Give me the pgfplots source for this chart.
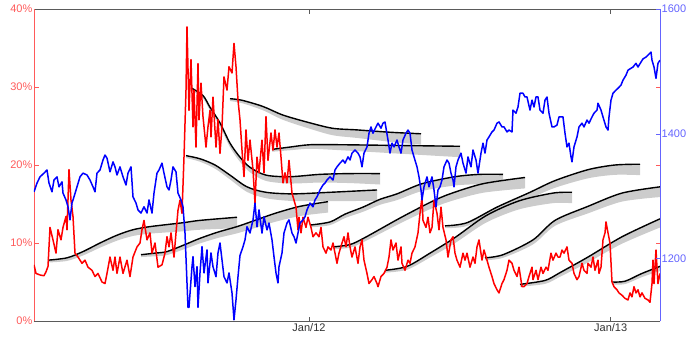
\documentclass[border=0pt]{standalone}
\usepackage{pgfplots}
\usepackage{pgfplotstable}
\pgfplotsset{compat=1.18}
\usepgfplotslibrary{fillbetween}
\usepackage{fontspec}
\setmainfont{Liberation Sans}
\definecolor{vixred}{RGB}{255,0,0}
\definecolor{spblue}{RGB}{0,0,255}
\definecolor{band}{RGB}{204,204,204}
\definecolor{lred}{RGB}{255,90,90}
\definecolor{lblue}{RGB}{100,100,255}
\definecolor{axgray}{RGB}{90,90,90}
\definecolor{labelgray}{RGB}{50,50,50}

% VIX-like series (days from Jan 1 2012, percent)
\pgfplotstableread{
d v
-330 7.2
-327.6 6.1
-322.8 5.9
-318 5.8
-315.6 6.3
-313.2 7.0
-310.8 12.0
-307.2 10.4
-303.6 8.7
-301.2 11.7
-297.6 10.4
-295.2 12.0
-291.6 13.4
-290.4 11.7
-288 19.4
-285.6 15.5
-283.2 13.4
-280.8 8.7
-277.2 8.2
-272.4 7.4
-268.8 7.8
-265.2 6.9
-260.4 6.5
-256.8 5.7
-253.2 6.1
-248.4 5.0
-244.8 4.8
-242.4 6.1
-238.8 8.2
-235.2 6.5
-232.8 8.2
-230.4 6.1
-226.8 8.2
-223.2 6.1
-218.4 7.8
-214.8 5.7
-211.2 8.2
-206.4 9.5
-202.8 10.0
-200.4 11.7
-198 12.9
-194.4 10.4
-190.8 11.3
-188.4 8.7
-184.8 10.0
-181.2 6.9
-176.4 7.2
-172.8 8.7
-170.4 10.8
-168 9.5
-165.6 11.3
-162 8.2
-159.6 11.3
-157.2 14.2
-154.8 15.5
-152.4 13.8
-150 21.0
-147.6 29.6
-146.4 37.7
-144 27.0
-141.6 33.5
-139.2 24.9
-138 29.6
-135.6 22.3
-133.2 33.0
-132 25.8
-129.6 30.5
-127.2 26.2
-123.6 22.3
-121.2 24.9
-118.8 27.0
-117.6 23.6
-115.2 28.7
-111.6 22.3
-109.2 25.8
-106.8 21.5
-104.4 24.9
-102 31.3
-98.4 29.6
-96 32.6
-92.4 31.8
-90 35.6
-87.6 32.6
-85.2 28.3
-82.8 25.8
-80.4 21.9
-78 18.5
-75.6 24.5
-73.2 20.6
-70.8 23.2
-67.2 19.4
-64.8 15.1
-62.4 21.0
-60 19.0
-56.4 23.2
-54 19.0
-51.6 26.2
-49.2 20.6
-45.6 24.1
-43.2 21.9
-40.8 24.5
-38.4 22.3
-36 24.1
-33.6 21.0
-31.2 17.7
-28.8 19.0
-26.4 17.7
-24 20.6
-20.4 16.4
-18 15.5
-15.6 14.6
-13.2 11.7
-12 13.3
-9.6 11.3
-7.2 13.3
-3.6 12.0
-1.2 13.3
2.4 12.0
4.8 10.8
8.4 11.3
12 10.8
14.4 12.0
16.8 9.5
20.4 8.7
22.8 9.5
26.4 9.1
28.8 10.0
31.2 8.7
33.6 7.4
36 8.7
39.6 10.0
42 10.8
44.4 9.5
46.8 11.3
49.2 9.5
51.6 8.2
55.2 9.5
58.8 7.4
61.2 9.5
63.6 10.4
66 7.8
69.6 6.1
72 4.8
75.6 5.3
78 5.7
81.6 4.8
82.8 4.4
86.4 5.7
90 6.1
93.6 6.9
96 8.2
98.4 10.4
100.8 9.1
104.4 10.0
106.8 7.8
110.4 9.5
111.6 7.4
115.2 6.5
118.8 7.8
121.2 7.4
123.6 8.7
127.2 9.5
130.8 11.3
133.2 13.8
135.6 15.9
136.8 12.9
140.4 12.0
142.8 13.3
145.2 11.3
147.6 12.0
150 15.5
153.6 13.8
156 11.7
158.4 14.6
160.8 12.0
164.4 10.4
166.8 8.2
170.4 10.4
172.8 10.8
175.2 8.7
177.6 7.8
181.2 6.9
184.8 8.7
187.2 7.8
189.6 8.7
193.2 6.9
196.8 8.2
199.2 7.4
201.6 9.5
204 10.4
207.6 7.8
210 9.1
213.6 7.8
216 6.9
219.6 5.7
222 4.8
225.6 4.0
228 3.6
231.6 4.8
234 5.3
237.6 6.5
240 7.8
243.6 7.4
246 6.5
249.6 5.7
252 6.9
255.6 4.4
258 4.4
261.6 4.8
264 5.7
267.6 6.9
268.8 5.3
272.4 6.5
274.8 5.3
278.4 6.9
280.8 6.1
284.4 6.9
286.8 6.5
290.4 8.7
292.8 7.8
296.4 8.7
298.8 8.2
301.2 8.2
303.6 9.1
306 8.7
309.6 9.5
312 7.8
315.6 7.4
318 6.1
321.6 5.3
324 5.7
327.6 7.4
330 6.5
333.6 6.1
334.8 7.4
338.4 6.9
340.8 8.2
343.2 6.5
346.8 7.8
348 6.1
350.4 6.9
352.8 10.4
355.2 11.3
356.4 12.7
358.8 11.3
361.2 10.0
363.6 5.0
366 4.4
369.6 4.0
372 3.6
375.6 3.3
379.2 2.9
382.8 2.7
385.2 3.6
387.6 3.1
390 4.4
392.4 3.6
394.8 4.0
397.2 3.1
399.6 3.6
403.2 2.9
406.8 2.7
409.2 2.4
411.6 4.8
412.8 7.8
414 4.8
416.4 9.1
417.6 6.9
418.8 4.8
421.2 6.1
}\vix

% index series (days from Jan 1 2012, level)
\pgfplotstableread{
d v
-330 1307
-326.4 1321
-322.8 1331
-318 1337
-314.4 1342
-312 1321
-308.4 1307
-306 1326
-302.4 1331
-300 1315
-296.4 1323
-295.2 1305
-291.6 1294
-289.2 1283
-286.8 1262
-284.4 1289
-282 1299
-278.4 1315
-274.8 1331
-271.2 1337
-266.4 1334
-262.8 1326
-259.2 1315
-256.8 1307
-254.4 1337
-250.8 1342
-247.2 1358
-244.8 1366
-242.4 1361
-238.8 1339
-235.2 1355
-232.8 1347
-230.4 1334
-226.8 1347
-223.2 1331
-219.6 1318
-217.2 1337
-213.6 1347
-211.2 1299
-207.6 1289
-205.2 1278
-201.6 1273
-198 1283
-194.4 1273
-192 1294
-188.4 1273
-186 1305
-182.4 1337
-180 1342
-176.4 1353
-174 1337
-170.4 1315
-168 1310
-165.6 1326
-163.2 1347
-159.6 1339
-157.2 1305
-153.6 1294
-151.2 1283
-148.8 1241
-146.4 1161
-145.2 1122
-144 1122
-140.4 1187
-139.2 1203
-136.8 1155
-134.4 1187
-133.2 1122
-130.8 1177
-128.4 1219
-126 1177
-122.4 1214
-121.2 1161
-117.6 1209
-115.2 1187
-111.6 1171
-109.2 1209
-106.8 1225
-104.4 1198
-102 1171
-98.4 1161
-96 1177
-92.4 1145
-90 1102
-87.6 1134
-85.2 1171
-82.8 1205
-79.2 1219
-76.8 1230
-74.4 1251
-70.8 1241
-67.2 1262
-64.8 1289
-62.4 1251
-60 1278
-56.4 1241
-54 1267
-50.4 1246
-48 1257
-44.4 1230
-42 1203
-39.6 1177
-37.2 1161
-36 1187
-32.4 1209
-30 1241
-26.4 1257
-24 1262
-20.4 1241
-18 1235
-15.6 1225
-13.2 1241
-10.8 1257
-7.2 1262
-4.8 1267
-2.4 1278
1.2 1289
4.8 1283
7.2 1294
9.6 1299
13.2 1310
16.8 1318
19.2 1321
21.6 1326
25.2 1331
28.8 1326
31.2 1342
33.6 1347
37.2 1353
40.8 1358
43.2 1353
46.8 1363
49.2 1358
51.6 1369
55.2 1374
58.8 1369
61.2 1363
63.6 1347
66 1369
69.6 1379
72 1401
74.4 1411
76.8 1401
80.4 1411
82.8 1417
86.4 1409
88.8 1417
91.2 1419
94.8 1390
97.2 1369
99.6 1385
102 1379
105.6 1390
108 1379
110.4 1369
112.8 1390
116.4 1401
118.8 1406
121.2 1401
123.6 1374
126 1363
129.6 1347
132 1331
134.4 1310
135.6 1294
138 1315
141.6 1331
144 1315
147.6 1331
150 1310
152.4 1283
154.8 1310
157.2 1315
159.6 1326
162 1347
165.6 1358
168 1353
170.4 1337
172.8 1326
174 1315
176.4 1347
178.8 1358
182.4 1369
184.8 1353
188.4 1337
190.8 1363
194.4 1347
196.8 1374
200.4 1358
202.8 1337
206.4 1369
208.8 1385
211.2 1369
213.6 1390
216 1395
219.6 1403
222 1406
225.6 1417
228 1419
231.6 1411
234 1411
237.6 1403
240 1406
243.6 1403
244.8 1438
248.4 1433
250.8 1443
253.2 1465
256.8 1465
259.2 1459
261.6 1459
265.2 1438
267.6 1454
270 1443
272.4 1459
274.8 1459
277.2 1438
280.8 1433
283.2 1454
285.6 1459
288 1433
291.6 1411
294 1411
297.6 1414
300 1427
302.4 1427
304.8 1427
307.2 1401
309.6 1379
312 1385
314.4 1363
315.6 1355
318 1379
321.6 1395
324 1411
327.6 1417
330 1411
333.6 1422
336 1417
339.6 1427
342 1433
345.6 1438
346.8 1449
350.4 1438
352.8 1427
356.4 1411
358.8 1406
360 1427
362.4 1454
364.8 1465
368.4 1470
370.8 1473
374.4 1478
376.8 1486
380.4 1494
382.8 1502
386.4 1505
388.8 1507
392.4 1513
394.8 1507
398.4 1515
400.8 1520
404.4 1523
406.8 1526
410.4 1531
411.6 1518
414 1507
416.4 1489
418.8 1513
421.2 1518
}\spx

% forward curves: d, curve level (%), lower edge of shaded band (%)
\pgfplotstableread{
d y lo
-313.2 7.8 7.5
-290.4 8.1 7.7
-271.2 8.9 8.4
-250.8 10.0 9.4
-230.4 11.0 10.3
-211.2 11.7 10.9
-190.8 12.1 11.2
-151.2 12.6 11.5
-130.8 12.9 11.7
-86.4 13.3 11.9
}\cA
\pgfplotstableread{
d y lo
-201.6 8.5 8.2
-184.8 8.7 8.3
-170.4 8.9 8.45
-148.8 9.8 9.24
-130.8 10.6 9.95
-109.2 11.4 10.65
-86.4 12.1 11.24
-64.8 12.9 11.93
-40.8 13.8 12.71
-10.8 14.7 13.46
22.8 15.3 13.9
}\cB
\pgfplotstableread{
d y lo
-147.6 21.2 20.9
-130.8 20.8 20.42
-112.8 20.0 19.53
-94.8 18.7 18.15
-74.4 17.2 16.55
-51.6 16.5 15.74
-19.2 16.3 15.38
25.2 16.5 15.37
81.6 16.8 15.4
}\cC
\pgfplotstableread{
d y lo
-141.6 29.9 29.6
-127.2 28.9 28.53
-118.8 27.4 26.99
-106.8 25.4 24.93
-94.8 22.8 22.27
-82.8 21.0 20.41
-70.8 19.7 19.06
-51.6 18.7 17.96
-22.8 18.5 17.63
13.2 18.8 17.75
49.2 18.9 17.68
85.2 18.9 17.5
}\cD
\pgfplotstableread{
d y lo
-94.8 28.5 28.2
-80.4 28.3 27.93
-55.2 27.5 27.01
-31.2 26.4 25.79
1.2 25.4 24.64
28.8 24.7 23.81
57.6 24.5 23.47
97.2 24.2 22.98
134.4 24.0 22.6
}\cE
\pgfplotstableread{
d y lo
-44.4 22.0 21.7
-22.8 22.3 21.89
1.2 22.6 22.08
37.2 22.6 21.9
109.2 22.5 21.45
181.2 22.4 21.0
}\cF
\pgfplotstableread{
d y lo
1.2 12.3 12.0
25.2 12.7 12.29
43.2 13.7 13.2
64.8 14.6 14.0
85.2 15.6 14.9
105.6 16.3 15.5
135.6 17.6 16.66
175.2 18.5 17.37
205.2 18.8 17.53
232.8 18.8 17.4
}\cG
\pgfplotstableread{
d y lo
28.8 9.5 9.2
49.2 9.8 9.4
67.2 10.7 10.21
109.2 13.2 12.51
145.2 15.2 14.34
169.2 16.3 15.33
208.8 17.6 16.44
259.2 18.4 17.0
}\cH
\pgfplotstableread{
d y lo
91.2 6.5 6.2
117.6 7.0 6.57
145.2 8.7 8.14
175.2 10.7 9.99
212.4 13.5 12.61
252 15.4 14.31
292.8 16.4 15.11
315.6 16.5 15.1
}\cI
\pgfplotstableread{
d y lo
163.2 12.2 11.9
189.6 12.6 12.18
225.6 14.6 14.01
265.2 16.5 15.72
295.2 18.0 17.08
334.8 19.4 18.29
367.2 20.0 18.74
397.2 20.1 18.7
}\cJ
\pgfplotstableread{
d y lo
211.2 8.1 7.8
232.8 8.5 8.1
268.8 10.4 9.82
295.2 12.9 12.2
334.8 14.7 13.8
375.6 16.4 15.31
421.2 17.2 15.89
}\cK
\pgfplotstableread{
d y lo
253.2 4.7 4.4
283.2 5.2 4.76
301.2 6.2 5.67
334.8 8.2 7.51
375.6 10.8 9.91
421.2 13.1 11.99
}\cL
\pgfplotstableread{
d y lo
363.6 5.0 4.7
379.2 5.1 4.73
399.6 6.1 5.63
421.2 7.0 6.42
}\cM

\newcommand{\fwdband}[2]{%
  \addplot[name path=top#2, draw=none, smooth] table[x=d,y=y]{#1};
  \addplot[name path=bot#2, draw=none, smooth] table[x=d,y=lo]{#1};
  \addplot[band, draw=none] fill between[of=top#2 and bot#2];
}

\begin{document}
\begin{tikzpicture}
\begin{axis}[
  width=626pt, height=312pt, scale only axis,
  xmin=-330, xmax=421.2, ymin=0, ymax=40,
  separate axis lines,
  x axis line style={axgray, line width=0.8pt},
  y axis line style={lred, line width=0.8pt},
  xtick={0,362}, xticklabels={Jan/12,Jan/13},
  ytick={0,10,20,30,40}, yticklabels={0\%,10\%,20\%,30\%,40\%},
  tick align=inside, xtick pos=both, ytick pos=both,
  xtick style={axgray, line width=0.6pt},
  ytick style={lred, line width=0.6pt},
  major tick length=4.5pt,
  tick label style={font=\fontsize{11}{13}\selectfont},
  yticklabel style={text=lred, inner xsep=1.5pt},
  xticklabel style={text=labelgray, inner ysep=2pt},
]
\coordinate (bbsw) at (rel axis cs:0,0);
\fwdband{\cA}{a}
\fwdband{\cB}{b}
\fwdband{\cC}{c}
\fwdband{\cD}{d}
\fwdband{\cE}{e}
\fwdband{\cF}{f}
\fwdband{\cG}{g}
\fwdband{\cH}{h}
\fwdband{\cI}{i}
\fwdband{\cJ}{j}
\fwdband{\cK}{k}
\fwdband{\cL}{l}
\fwdband{\cM}{m}
\addplot[black, line width=1.4pt, smooth] table[x=d,y=y]{\cA};
\addplot[black, line width=1.4pt, smooth] table[x=d,y=y]{\cB};
\addplot[black, line width=1.4pt, smooth] table[x=d,y=y]{\cC};
\addplot[black, line width=1.4pt, smooth] table[x=d,y=y]{\cD};
\addplot[black, line width=1.4pt, smooth] table[x=d,y=y]{\cE};
\addplot[black, line width=1.4pt, smooth] table[x=d,y=y]{\cF};
\addplot[black, line width=1.4pt, smooth] table[x=d,y=y]{\cG};
\addplot[black, line width=1.4pt, smooth] table[x=d,y=y]{\cH};
\addplot[black, line width=1.4pt, smooth] table[x=d,y=y]{\cI};
\addplot[black, line width=1.4pt, smooth] table[x=d,y=y]{\cJ};
\addplot[black, line width=1.4pt, smooth] table[x=d,y=y]{\cK};
\addplot[black, line width=1.4pt, smooth] table[x=d,y=y]{\cL};
\addplot[black, line width=1.4pt, smooth] table[x=d,y=y]{\cM};
\addplot[vixred, line width=1.5pt, line join=round] table[x=d,y=v]{\vix};
\end{axis}
\begin{axis}[
  width=626pt, height=312pt, scale only axis,
  xmin=-330, xmax=421.2, ymin=1100, ymax=1600,
  axis x line=none, axis y line*=right,
  y axis line style={lblue, line width=0.8pt, -},
  ytick={1200,1400,1600}, yticklabels={1200,1400,1600},
  tick align=inside,
  ytick style={lblue, line width=0.6pt},
  major tick length=4.5pt,
  tick label style={font=\fontsize{11}{13}\selectfont},
  yticklabel style={text=lblue, inner xsep=1.5pt},
]
\addplot[spblue, line width=1.5pt, line join=round] table[x=d,y=v]{\spx};
\end{axis}
\pgfresetboundingbox
\path[use as bounding box] ([xshift=-34pt,yshift=-20pt]bbsw) rectangle ([xshift=652pt,yshift=321pt]bbsw);
\end{tikzpicture}
\end{document}
